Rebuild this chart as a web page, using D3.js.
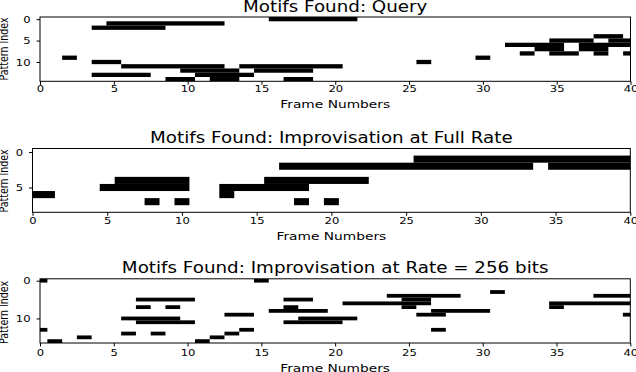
<!DOCTYPE html>
<html>
<head>
<meta charset="utf-8">
<script src="https://cdn.jsdelivr.net/npm/d3@7"></script>
<style>
body{margin:0;background:#fff;}
svg text{font-family:"DejaVu Sans",sans-serif;fill:#000;}
</style>
</head>
<body>
<div id="chart"></div>
<script>
// each run: [pattern index, first frame, last frame]
var queryRuns = [
  [0,16,21],[1,5,12],[2,4,8],
  [4,38,39],[5,35,37],[5,39,40],[6,32,35],[6,37,40],[7,34,35],[7,37,38],
  [8,33,33],[8,35,36],[8,38,38],[8,40,40],
  [9,2,2],[9,30,30],[10,4,5],[10,26,26],
  [11,6,12],[11,14,20],[12,10,13],[12,15,18],
  [13,4,7],[13,11,14],[14,9,10],[14,12,13],[14,17,18]
];
var fullRateRuns = [
  [1,26,40],[2,17,33],[2,35,40],
  [4,6,10],[4,16,22],[5,5,10],[5,13,18],
  [6,0,1],[6,13,13],[7,8,8],[7,10,10],[7,18,18],[7,20,20]
];
var rate256Runs = [
  [0,0,0],[0,15,15],[3,31,31],[4,24,28],[4,38,40],
  [5,7,10],[5,17,18],[5,25,26],[6,21,26],[6,35,40],
  [7,7,7],[7,9,9],[7,17,17],[7,25,25],[7,35,35],
  [8,16,19],[8,27,30],[9,13,14],[9,26,27],[9,40,40],
  [10,6,9],[10,18,21],[11,7,10],[11,17,20],
  [13,0,0],[13,14,14],[13,27,27],[14,6,6],[14,8,8],[14,13,13],
  [15,3,3],[15,12,12],[16,1,1],[16,11,11]
];
var patternCounts = [15, 9, 17];
var titles = ["Motifs Found: Query",
              "Motifs Found: Improvisation at Full Rate",
              "Motifs Found: Improvisation at Rate = 256 bits"];
var frameTicks = [0,5,10,15,20,25,30,35,40];
var patternTicks = [[0,5,10],[0,5],[0,10]];

var W = 636, H = 372;
var sx = 1.22; // picture is stretched sideways

var panels = [
  {runs: queryRuns, left:40, right:630.5, top:17, bottom:81.3, tickBase:10.4, titleBase:11.7, labelBase:108.3, yLabelX:8, yLabelMid:49},
  {runs: fullRateRuns, left:32.5, right:630.3, top:148.5, bottom:212.3, tickBase:12.2, titleBase:143.3, labelBase:240, yLabelX:7.5, yLabelMid:181},
  {runs: rate256Runs, left:40, right:630.3, top:278.8, bottom:343, tickBase:12.8, titleBase:273.3, labelBase:371.5, yLabelX:7.5, yLabelMid:312.5}
];

var svg = d3.select("#chart").append("svg")
  .attr("width", W).attr("height", H);

panels.forEach(function(p, i){
  var x = d3.scaleLinear().domain([0,40]).range([p.left, p.right]);
  var y = d3.scaleLinear().domain([-0.5, patternCounts[i]-0.5]).range([p.top, p.bottom]);
  var g = svg.append("g");

  g.append("clipPath").attr("id", "clip"+i)
    .append("rect")
    .attr("x", p.left).attr("y", p.top)
    .attr("width", p.right-p.left).attr("height", p.bottom-p.top);

  g.append("g").attr("clip-path", "url(#clip"+i+")")
    .selectAll("rect")
    .data(p.runs)
    .join("rect")
    .attr("x", d=>x(d[1]-0.5))
    .attr("width", d=>x(d[2]+0.5)-x(d[1]-0.5))
    .attr("y", d=>y(d[0]-0.5))
    .attr("height", d=>y(d[0]+0.5)-y(d[0]-0.5))
    .attr("fill", "#000");

  // axes frame
  g.append("rect")
    .attr("x", p.left).attr("y", p.top)
    .attr("width", p.right-p.left).attr("height", p.bottom-p.top)
    .attr("fill", "none").attr("stroke", "#000").attr("stroke-width", 1);

  var xa = g.append("g")
    .attr("transform", "translate(0," + p.bottom + ")")
    .call(d3.axisBottom(x).tickValues(frameTicks).tickSize(3.5).tickFormat(d3.format("d")));
  xa.select(".domain").remove();
  xa.selectAll("text")
    .attr("y", p.tickBase).attr("dy", null)
    .attr("transform", "scale(" + sx + ",1)")
    .attr("font-size", 9.5).attr("font-family", "DejaVu Sans");

  var ya = g.append("g")
    .attr("transform", "translate(" + p.left + ",0)")
    .call(d3.axisLeft(y).tickValues(patternTicks[i]).tickSize(3.5).tickFormat(d3.format("d")));
  ya.select(".domain").remove();
  ya.selectAll("text")
    .attr("x", -9.5/sx).attr("dy", "0.34em")
    .attr("transform", "scale(" + sx + ",1)")
    .attr("font-size", 9.5).attr("font-family", "DejaVu Sans");

  var mid = (p.left+p.right)/2;
  g.append("text")
    .attr("transform", "translate(" + mid + "," + p.titleBase + ") scale(" + sx + ",1)")
    .attr("text-anchor", "middle")
    .attr("font-size", 15)
    .text(titles[i]);

  g.append("text")
    .attr("transform", "translate(" + mid + "," + p.labelBase + ") scale(" + sx + ",1)")
    .attr("text-anchor", "middle")
    .attr("font-size", 11.3)
    .text("Frame Numbers");

  g.append("text")
    .attr("transform", "translate(" + p.yLabelX + "," + p.yLabelMid + ") scale(" + sx + ",1) rotate(-90)")
    .attr("text-anchor", "middle")
    .attr("font-size", 9.5)
    .text("Pattern Index");
});
</script>
</body>
</html>
